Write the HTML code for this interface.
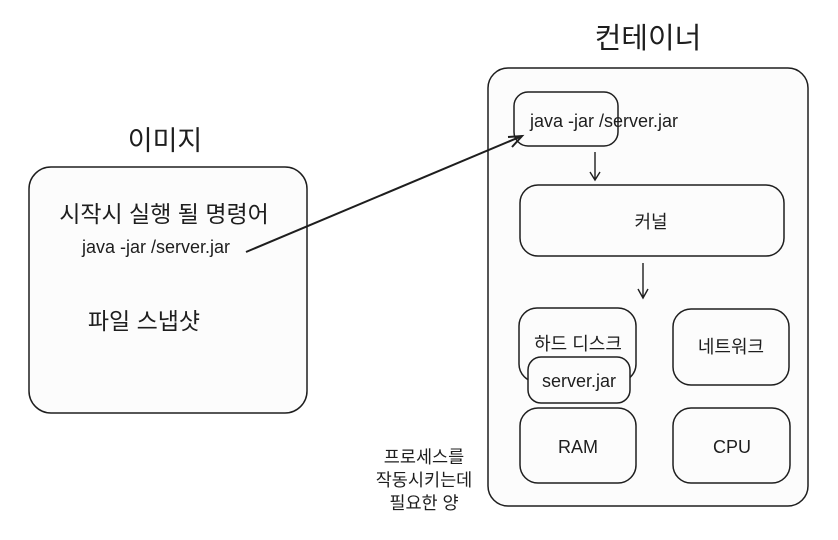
<!DOCTYPE html>
<html><head><meta charset="utf-8"><style>
html,body{margin:0;padding:0;background:#fff;}
svg{display:block}
text{font-family:"Liberation Sans","Noto Sans CJK KR",sans-serif;fill:#1e1e1e}
</style></head><body>
<svg width="838" height="540" viewBox="0 0 838 540" xmlns="http://www.w3.org/2000/svg">
<g fill="#fcfcfc" stroke="#1e1e1e" stroke-width="1.5">
<rect x="29" y="167" width="278" height="246" rx="22"/>
<rect x="488" y="68" width="320" height="438" rx="20"/>
<rect x="514" y="92" width="104" height="54" rx="14"/>
<rect x="520" y="185" width="264" height="71" rx="18"/>
<rect x="519" y="308" width="117" height="74" rx="18"/>
<rect x="528" y="357" width="102" height="46" rx="13"/>
<rect x="673" y="309" width="116" height="76" rx="18"/>
<rect x="520" y="408" width="116" height="75" rx="18"/>
<rect x="673" y="408" width="117" height="75" rx="18"/>
</g>
<g stroke="#1e1e1e" stroke-width="1.4" fill="none">
<path d="M595 152 L595 180 M590 172 L595 180 L600 172"/>
<path d="M643 263 L643 298 M638 289 L643 298 L648 289"/>
<path d="M246 252 L522 136" stroke-width="2"/>
<path d="M508 137 L522 136 L512 147" stroke-width="2"/>
</g>
<text x="648" y="48" font-size="29" text-anchor="middle">컨테이너</text>
<text x="165" y="150" font-size="27" text-anchor="middle">이미지</text>
<text x="164" y="222" font-size="23" text-anchor="middle">시작시 실행 될 명령어</text>
<text x="156" y="253" font-size="18" text-anchor="middle">java -jar /server.jar</text>
<text x="144" y="329" font-size="23" text-anchor="middle">파일 스냅샷</text>
<text x="530" y="127" font-size="18">java -jar /server.jar</text>
<text x="651" y="228" font-size="18" text-anchor="middle">커널</text>
<text x="578" y="350" font-size="18" text-anchor="middle">하드 디스크</text>
<text x="579" y="387" font-size="18" text-anchor="middle">server.jar</text>
<text x="731" y="353" font-size="18" text-anchor="middle">네트워크</text>
<text x="578" y="453" font-size="18" text-anchor="middle">RAM</text>
<text x="732" y="453" font-size="18" text-anchor="middle">CPU</text>
<text x="424" y="463" font-size="17.5" text-anchor="middle">프로세스를</text>
<text x="424" y="486" font-size="17.5" text-anchor="middle">작동시키는데</text>
<text x="424" y="509" font-size="17.5" text-anchor="middle">필요한 양</text>
</svg>
</body></html>
